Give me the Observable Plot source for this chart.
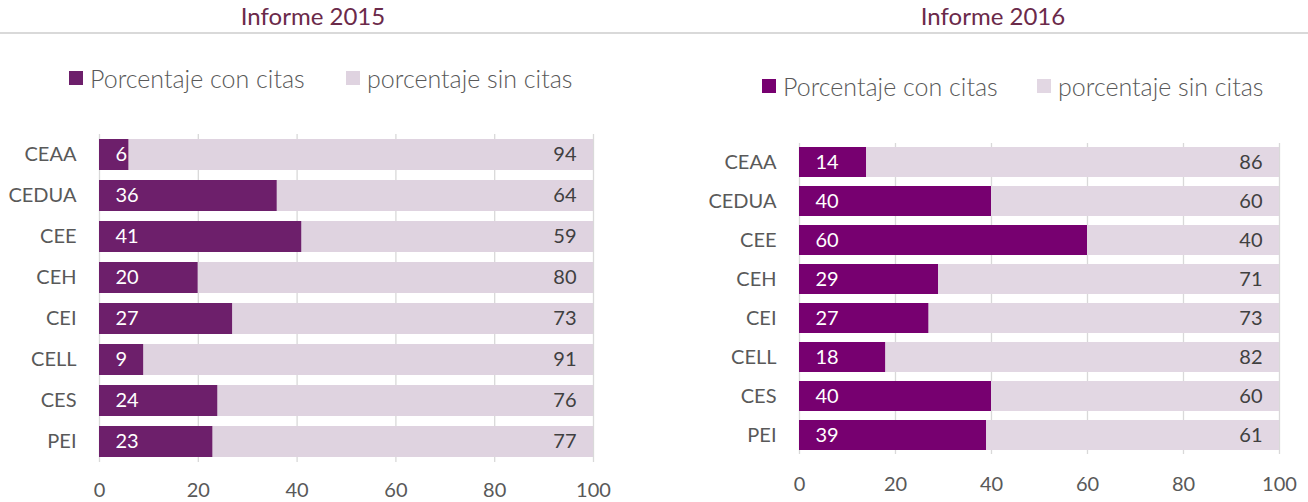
<!DOCTYPE html>
<html>
<head>
<meta charset="utf-8">
<script src="https://cdn.jsdelivr.net/npm/d3@7"></script>
<script src="https://cdn.jsdelivr.net/npm/@observablehq/plot@0.6"></script>
<style>
  html, body { margin: 0; padding: 0; background: #fff; }
  body { width: 1308px; height: 502px; position: relative; overflow: hidden; font-family: Lato, sans-serif; }
  .rule { position: absolute; left: 0; top: 32px; width: 1308px; height: 2px; background: #d9d9d9; }
  .panel { position: absolute; top: 0; width: 654px; height: 502px; }
  .title { position: absolute; top: 1px; font-size: 24px; color: #6b2a4a; transform: translateX(-50%); white-space: nowrap; }
  .leg { position: absolute; font-size: 25px; font-weight: 300; color: #595959; white-space: nowrap; display: flex; align-items: center; }
  .sw { display: inline-block; width: 14px; height: 14px; margin-right: 7px; }
  .chart { position: absolute; left: 0; top: 100px; }
</style>
</head>
<body>
<div class="rule"></div>
<div id="p0" class="panel" style="left:0"></div>
<div id="p1" class="panel" style="left:654px"></div>
<script>
const categories = ["CEAA", "CEDUA", "CEE", "CEH", "CEI", "CELL", "CES", "PEI"];
const seriesNames = ["Porcentaje con citas", "porcentaje sin citas"];
const con2015 = [6, 36, 41, 20, 27, 9, 24, 23];
const sin2015 = [94, 64, 59, 80, 73, 91, 76, 77];
const con2016 = [14, 40, 60, 29, 27, 18, 40, 39];
const sin2016 = [86, 60, 40, 71, 73, 82, 60, 61];
const xTicks = [0, 20, 40, 60, 80, 100];
const titles = ["Informe 2015", "Informe 2016"];

const panels = [
  {id: "p0", title: titles[0], con: con2015, sin: sin2015, dark: "#6d1f6b", light: "#dfd3e0",
   titleX: 313, legTop: 63, legX: [69, 346], pad: 20,
   mLeft: 99, mRight: 61, mTop: 34, mBottom: 40},
  {id: "p1", title: titles[1], con: con2016, sin: sin2016, dark: "#770070", light: "#e2d7e3",
   titleX: 339, legTop: 71, legX: [108, 383], pad: 22,
   mLeft: 145, mRight: 29, mTop: 43, mBottom: 48}
];

for (const p of panels) {
  const root = document.getElementById(p.id);
  const t = document.createElement("div");
  t.className = "title"; t.textContent = p.title; t.style.left = p.titleX + "px";
  root.appendChild(t);
  const colors = [p.dark, p.light];
  seriesNames.forEach((name, i) => {
    const l = document.createElement("div");
    l.className = "leg";
    l.style.left = p.legX[i] + "px"; l.style.top = p.legTop + "px";
    const sw = document.createElement("span"); sw.className = "sw"; sw.style.background = colors[i];
    const tx = document.createElement("span"); tx.textContent = name;
    l.appendChild(sw); l.appendChild(tx);
    root.appendChild(l);
  });

  const rows = [];
  categories.forEach((c, i) => {
    rows.push({cat: c, series: seriesNames[0], value: p.con[i]});
    rows.push({cat: c, series: seriesNames[1], value: p.sin[i]});
  });
  const conRows = rows.filter(d => d.series === seriesNames[0]);
  const sinRows = rows.filter(d => d.series === seriesNames[1]);

  const chart = Plot.plot({
    width: 654,
    height: 402,
    marginLeft: p.mLeft, marginRight: p.mRight, marginTop: p.mTop, marginBottom: p.mBottom,
    style: {fontFamily: "Lato, sans-serif", fontSize: "20px", color: "#595959", background: "transparent"},
    x: {domain: [0, 100], ticks: xTicks, tickSize: 0, label: null},
    y: {type: "band", domain: categories, paddingInner: 0.233, paddingOuter: 0.1, tickSize: 0, label: null},
    color: {domain: seriesNames, range: colors},
    marks: [
      Plot.gridX(xTicks, {stroke: "#d9d9d9", strokeOpacity: 1, strokeWidth: 1.3}),
      Plot.barX(rows, Plot.stackX({x: "value", y: "cat", fill: "series"})),
      Plot.text(conRows, {x: () => 0, y: "cat", text: d => String(d.value), textAnchor: "start", dx: 16, fill: "#ffffff", fontSize: 20}),
      Plot.text(sinRows, {x: () => 100, y: "cat", text: d => String(d.value), textAnchor: "end", dx: -17, fill: "#404040", fontSize: 20}),
      Plot.axisX({ticks: xTicks, tickSize: 0, tickPadding: p.pad, fill: "#595959", fontSize: 20, label: null}),
      Plot.axisY({tickSize: 0, tickPadding: 23, fill: "#595959", fontSize: 20, label: null})
    ]
  });
  chart.classList.add("chart");
  root.appendChild(chart);
}
</script>
</body>
</html>
